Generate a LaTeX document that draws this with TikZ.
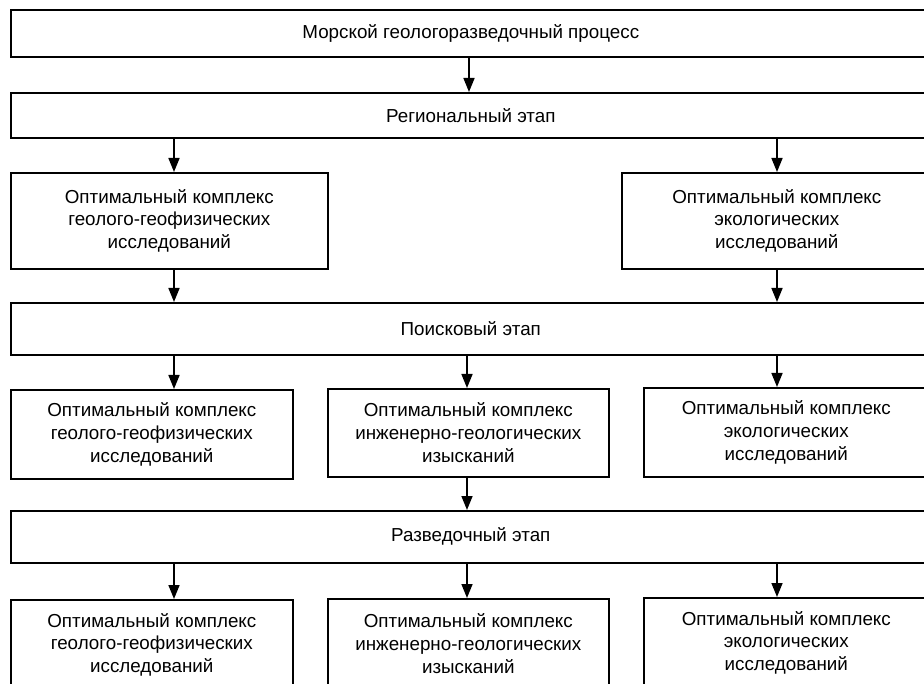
\documentclass[tikz,border=0pt]{standalone}
\usepackage{fontspec}
\setmainfont{Liberation Sans}
\usetikzlibrary{arrows.meta}
\tikzset{
  box/.style={draw=black, line width=1.6pt, fill=white, anchor=north west, align=center, inner sep=0pt,
    font=\fontsize{18.8}{22.8}\selectfont},
  arr/.style={line width=1.6pt, -{Triangle[length=14pt,width=11pt]}},
}
\begin{document}
\begin{tikzpicture}[x=1pt,y=-1pt]
\useasboundingbox (0,0) rectangle (924,684);
\fill[white] (0,0) rectangle (924,684);
% x positions of connectors
\coordinate (xl) at (174,0);
\coordinate (xm) at (467,0);
\coordinate (xr) at (777,0);
\coordinate (xt) at (469,0);
% wide stage boxes
\node[box, minimum width=920pt, minimum height=47pt] (top) at (10,9) {Морской геологоразведочный процесс};
\node[box, minimum width=920pt, minimum height=45pt] (reg) at (10,92) {Региональный этап};
\node[box, minimum width=920pt, minimum height=52pt] (srch) at (10,302) {Поисковый этап};
\node[box, minimum width=920pt, minimum height=52pt] (expl) at (10,510) {Разведочный этап};
% row 2
\node[box, minimum width=317pt, minimum height=96pt] (r2l) at (10,172) {Оптимальный комплекс\\геолого-геофизических\\исследований};
\node[box, minimum width=310pt, minimum height=96pt] (r2r) at (621,172) {Оптимальный комплекс\\экологических\\исследований};
% row 3
\node[box, minimum width=282pt, minimum height=89pt] (r3l) at (10,389) {Оптимальный комплекс\\геолого-геофизических\\исследований};
\node[box, minimum width=281pt, minimum height=88pt] (r3m) at (327,388) {Оптимальный комплекс\\инженерно-геологических\\изысканий};
\node[box, minimum width=285pt, minimum height=89pt] (r3r) at (643,387) {Оптимальный комплекс\\экологических\\исследований};
% row 4
\node[box, minimum width=282pt, minimum height=90pt] (r4l) at (10,599) {Оптимальный комплекс\\геолого-геофизических\\исследований};
\node[box, minimum width=281pt, minimum height=90pt] (r4m) at (327,598) {Оптимальный комплекс\\инженерно-геологических\\изысканий};
\node[box, minimum width=285pt, minimum height=90pt] (r4r) at (643,597) {Оптимальный комплекс\\экологических\\исследований};
% connectors
\draw[arr] (top.south -| xt) -- (reg.north -| xt);
\draw[arr] (reg.south -| xl) -- (r2l.north -| xl);
\draw[arr] (reg.south -| xr) -- (r2r.north -| xr);
\draw[arr] (r2l.south -| xl) -- (srch.north -| xl);
\draw[arr] (r2r.south -| xr) -- (srch.north -| xr);
\draw[arr] (srch.south -| xl) -- (r3l.north -| xl);
\draw[arr] (srch.south -| xm) -- (r3m.north -| xm);
\draw[arr] (srch.south -| xr) -- (r3r.north -| xr);
\draw[arr] (r3m.south -| xm) -- (expl.north -| xm);
\draw[arr] (expl.south -| xl) -- (r4l.north -| xl);
\draw[arr] (expl.south -| xm) -- (r4m.north -| xm);
\draw[arr] (expl.south -| xr) -- (r4r.north -| xr);
\end{tikzpicture}
\end{document}
